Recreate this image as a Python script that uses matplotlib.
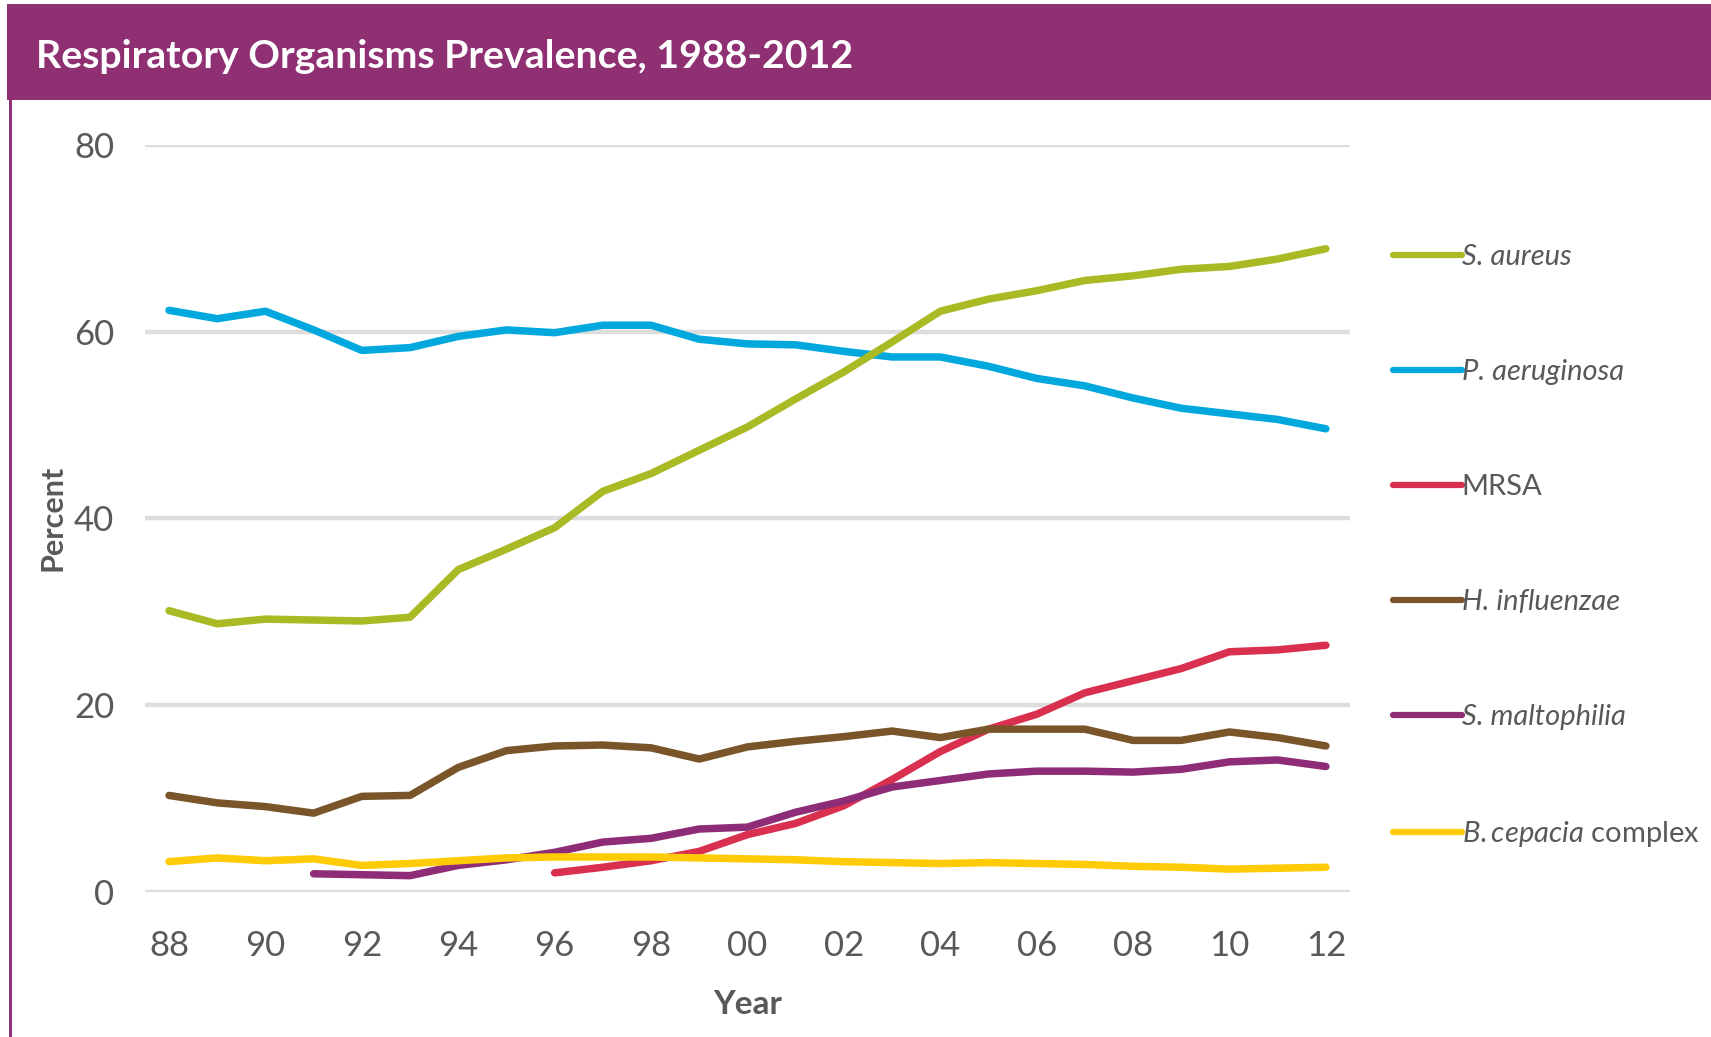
import matplotlib
matplotlib.use("Agg")
import matplotlib.pyplot as plt
from matplotlib.patches import Rectangle

# data
years = list(range(1988, 2013))
s_aureus = [30.1, 28.7, 29.2, 29.1, 29.0, 29.4, 34.5, 36.7, 39.0, 42.9, 44.8, 47.3, 49.8,
            52.8, 55.7, 58.9, 62.2, 63.5, 64.4, 65.5, 66.0, 66.7, 67.0, 67.8, 68.9]
p_aeruginosa = [62.3, 61.4, 62.2, 60.2, 58.0, 58.3, 59.5, 60.2, 59.9, 60.7, 60.7, 59.2, 58.7,
                58.6, 57.9, 57.3, 57.3, 56.3, 55.0, 54.2, 52.9, 51.8, 51.2, 50.6, 49.6]
mrsa_years = list(range(1996, 2013))
mrsa = [2.0, 2.6, 3.3, 4.3, 6.1, 7.3, 9.2, 12.0, 15.0, 17.4, 19.0, 21.3, 22.6, 23.9, 25.7, 25.9, 26.4]
h_influenzae = [10.3, 9.5, 9.1, 8.4, 10.2, 10.3, 13.3, 15.1, 15.6, 15.7, 15.4, 14.2, 15.5,
                16.1, 16.6, 17.2, 16.5, 17.4, 17.4, 17.4, 16.2, 16.2, 17.1, 16.5, 15.6]
malto_years = list(range(1991, 2013))
s_maltophilia = [1.9, 1.8, 1.7, 2.8, 3.4, 4.2, 5.3, 5.7, 6.7, 6.9, 8.5, 9.7, 11.2, 11.9,
                 12.6, 12.9, 12.9, 12.8, 13.1, 13.9, 14.1, 13.4]
b_cepacia = [3.2, 3.6, 3.3, 3.5, 2.8, 3.0, 3.3, 3.6, 3.7, 3.7, 3.7, 3.6, 3.5, 3.4, 3.2,
             3.1, 3.0, 3.1, 3.0, 2.9, 2.7, 2.6, 2.4, 2.5, 2.6]

xticks = list(range(1988, 2013, 2))
xlabels = ["%02d" % (y % 100) for y in xticks]
yticks = [0, 20, 40, 60, 80]

purple = "#8E3072"
grey_txt = "#595959"
font = ["Lato", "DejaVu Sans"]

plt.rcParams["mathtext.fontset"] = "custom"
plt.rcParams["mathtext.it"] = "Lato:italic"
plt.rcParams["mathtext.rm"] = "Lato"

fig = plt.figure(figsize=(17.11, 10.37), dpi=100)
ax = fig.add_axes([0.0847, 0.1403, 0.7043, 0.7197])

# header band and left border
fig.patches.append(Rectangle((0.004, 1 - 100 / 1037), 1.0, 96 / 1037, transform=fig.transFigure,
                             facecolor=purple, edgecolor="none", zorder=0))
fig.patches.append(Rectangle((9 / 1711, 0), 3 / 1711, 1 - 100 / 1037, transform=fig.transFigure,
                             facecolor=purple, edgecolor="none", zorder=0))
fig.text(36 / 1711, 1 - 56 / 1037, "Respiratory Organisms Prevalence, 1988-2012", color="white",
         fontsize=28.3, fontweight="bold", family=font, va="center", ha="left")

lw = 5.4
kw = dict(lw=lw, solid_capstyle="round", solid_joinstyle="round")
ax.plot(years, p_aeruginosa, color="#00A8DE", label="P. aeruginosa", zorder=3, **kw)
ax.plot(years, s_aureus, color="#A9BA25", label="S. aureus", zorder=4, **kw)
ax.plot(mrsa_years, mrsa, color="#D9304F", label="MRSA", zorder=3, **kw)
ax.plot(years, h_influenzae, color="#7A552A", label="H. influenzae", zorder=4, **kw)
ax.plot(malto_years, s_maltophilia, color="#8E2C78", label="S. maltophilia", zorder=3, **kw)
ax.plot(years, b_cepacia, color="#FFCB05", label="$\\it{B.cepacia}$ complex", zorder=5, **kw)

ax.set_xlim(1987.5, 2012.5)
ax.set_ylim(0, 80)
ax.set_xticks(xticks)
ax.set_xticklabels(xlabels)
ax.set_yticks(yticks)
for s in ax.spines.values():
    s.set_visible(False)
ax.grid(axis="y", color="#DDDDDD", lw=3.2, zorder=1)
ax.set_axisbelow(True)
ax.tick_params(length=0, labelsize=25, labelcolor=grey_txt)
ax.tick_params(axis="x", pad=28)
ax.tick_params(axis="y", pad=22)
for t in ax.get_xticklabels() + ax.get_yticklabels():
    t.set_family(font)
ax.set_xlabel("Year", fontsize=24, fontweight="bold", color=grey_txt, family=font, va="center")
ax.xaxis.set_label_coords(0.5, -0.151)
ax.set_ylabel("Percent", fontsize=22, fontweight="bold", color=grey_txt, family=font, va="center")
ax.yaxis.set_label_coords(-0.077, 0.5)

handles, labels = ax.get_legend_handles_labels()
order = [1, 0, 2, 3, 4, 5]
leg = ax.legend([handles[i] for i in order], [labels[i] for i in order],
                loc="upper left", bbox_to_anchor=(1393 / 1711, 1 - 244 / 1037),
                bbox_transform=fig.transFigure, frameon=False, fontsize=21,
                handlelength=2.35, handletextpad=0.0, labelspacing=3.05,
                borderpad=0, borderaxespad=0)
for t in leg.get_texts():
    t.set_color(grey_txt)
    t.set_family(font)
    if t.get_text() in ("S. aureus", "P. aeruginosa", "H. influenzae", "S. maltophilia"):
        t.set_fontstyle("italic")
for h in leg.get_lines():
    h.set_linewidth(4.5)

fig.savefig("out.png", dpi=100)
